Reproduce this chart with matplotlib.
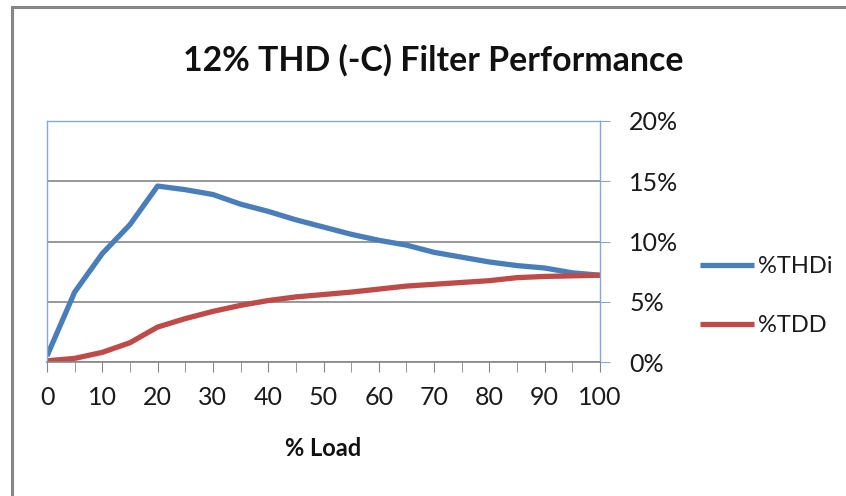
import numpy as np
import matplotlib.pyplot as plt
from matplotlib.ticker import MultipleLocator, FuncFormatter
from matplotlib.lines import Line2D

# values
load = [0, 5, 10, 15, 20, 25, 30, 35, 40, 45, 50, 55, 60, 65, 70, 75, 80, 85, 90, 95, 100]
thdi = [0.5, 5.8, 9.0, 11.4, 14.6, 14.3, 13.9, 13.1, 12.5, 11.8, 11.2, 10.6, 10.1, 9.7, 9.1, 8.7, 8.3, 8.0, 7.8, 7.4, 7.2]
tdd = [0.1, 0.3, 0.8, 1.6, 2.9, 3.6, 4.2, 4.7, 5.1, 5.4, 5.6, 5.8, 6.05, 6.3, 6.45, 6.6, 6.75, 7.0, 7.1, 7.15, 7.2]

plt.rcParams['font.family'] = ['Lato', 'DejaVu Sans']

fig = plt.figure(figsize=(8.46, 4.96), dpi=100)
# chart area border (only left and top are visible in the crop)
bx, by = 11.5 / 846, 1 - 6.5 / 496
fig.lines.append(Line2D([bx, bx, 1.0], [0.0, by, by], transform=fig.transFigure,
                        color='#868686', linewidth=2.2, solid_joinstyle='miter'))

ax = fig.add_axes([47 / 846, 134 / 496, 553 / 846, 241 / 496])

blue = '#4a7ebb'
red = '#be4b48'
ax.plot(load, thdi, color=blue, linewidth=3.8, solid_capstyle='butt', label='%THDi')
ax.plot(load, tdd, color=red, linewidth=3.8, solid_capstyle='butt', label='%TDD')

ax.set_xlim(0, 100)
ax.set_ylim(0, 20)

ax.yaxis.tick_right()
ax.yaxis.set_major_locator(MultipleLocator(5))
ax.yaxis.set_major_formatter(FuncFormatter(lambda v, p: f"{v:.0f}%"))
ax.xaxis.set_major_locator(MultipleLocator(10))
ax.xaxis.set_minor_locator(MultipleLocator(5))

ax.grid(axis='y', color='#868686', linewidth=1.2)
ax.set_axisbelow(True)

for side in ['left', 'top', 'right']:
    ax.spines[side].set_color('#86a8d8')
    ax.spines[side].set_linewidth(1.0)
ax.spines['bottom'].set_color('#868686')
ax.spines['bottom'].set_linewidth(1.2)

ax.tick_params(axis='y', which='major', direction='out', length=7, color='#86a8d8',
               labelsize=18, pad=14, labelcolor='#1a1a1a')
ax.tick_params(axis='x', which='both', direction='out', length=7, color='#868686',
               labelsize=18, pad=10, labelcolor='#1a1a1a')
for lbl in ax.get_yticklabels():
    lbl.set_horizontalalignment('left')

fig.text(433 / 846, 1 - 60 / 496, '12% THD (-C) Filter Performance', ha='center', va='center',
         fontsize=24.4, fontweight='bold', color='#111111')
fig.text(323 / 846, 1 - 448 / 496, '% Load', ha='center', va='center',
         fontsize=17, fontweight='bold', color='#111111')

ax.legend(loc='center left', bbox_to_anchor=(700 / 846, 1 - 296 / 496),
          bbox_transform=fig.transFigure, frameon=False, fontsize=17,
          borderpad=0, borderaxespad=0, handlelength=2.3, handletextpad=0.15,
          labelspacing=1.6, labelcolor='#1a1a1a')

fig.savefig('out.png', dpi=100)
